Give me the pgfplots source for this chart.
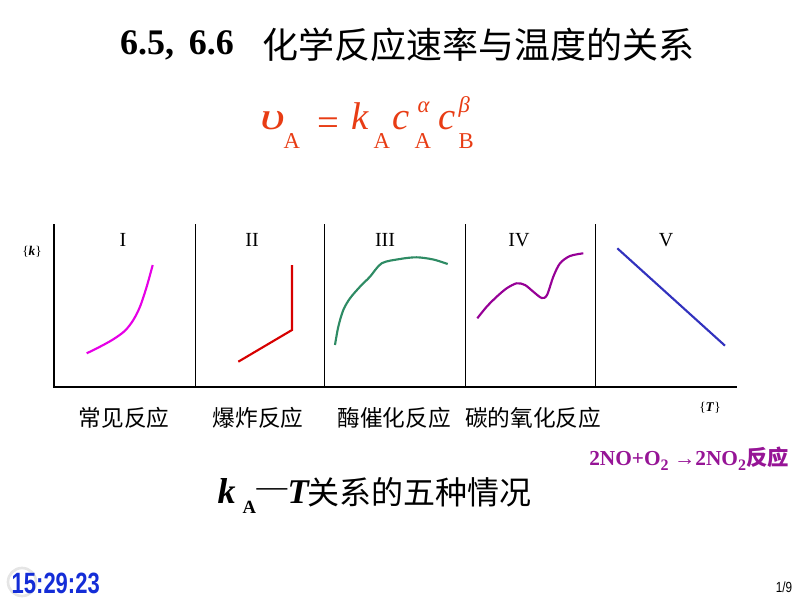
\documentclass[border=0pt]{standalone}
\usepackage{pgfplots}
\pgfplotsset{compat=1.18}
\usepackage{fontspec}
\setmainfont{Liberation Serif}
\newfontfamily\cjk{Noto Sans CJK SC}
\newfontfamily\sans{Liberation Sans}
\definecolor{cI}{RGB}{230,0,230}
\definecolor{cII}{RGB}{215,0,0}
\definecolor{cIII}{RGB}{46,139,100}
\definecolor{cIV}{RGB}{150,0,150}
\definecolor{cV}{RGB}{50,50,190}
\definecolor{fred}{RGB}{232,60,20}
\definecolor{tpurple}{RGB}{150,20,150}
\definecolor{clockblue}{RGB}{20,45,215}
\newcommand{\fs}[1]{\fontsize{#1}{#1}\selectfont}
\begin{document}
\begin{tikzpicture}
\path[use as bounding box] (0,0) rectangle (600pt,450pt);
\begin{axis}[
  at={(0,0)}, anchor=south west,
  width=600pt, height=450pt, scale only axis,
  xmin=0, xmax=800, ymin=0, ymax=600, y dir=reverse,
  hide axis, clip=false,
  every node/.append style={inner sep=0pt, outer sep=0pt},
]
% frame
\addplot[black, line width=1pt] coordinates {(54,224) (54,387) (737,387)};
\addplot[black, line width=1pt] coordinates {(195.3,224) (195.3,387)};
\addplot[black, line width=1pt] coordinates {(324.3,224) (324.3,387)};
\addplot[black, line width=1pt] coordinates {(465.3,224) (465.3,387)};
\addplot[black, line width=1pt] coordinates {(595.3,224) (595.3,387)};
% curves
\addplot[cI, line width=1.6pt, smooth] coordinates {(86.7,353.3) (100,346.7) (113.3,339.3) (125,330.7) (133.3,320) (140,306.7) (146.7,286.7) (152.7,265)};
\addplot[cII, line width=1.6pt] coordinates {(238.3,361.7) (292,330) (292,265)};
\addplot[cIII, line width=1.6pt, smooth] coordinates {(335,345) (338.3,326.7) (343.3,310) (350,298.3) (360,286.7) (370,276.7) (381.7,263.3) (400,259) (416.7,257.3) (433.3,259.5) (447.7,264)};
\addplot[cIV, line width=1.6pt, smooth] coordinates {(477.3,318.3) (486.7,306.7) (496.7,296.7) (506.7,288.3) (516.7,283.3) (525,285) (533.3,291.7) (541.7,298) (547,295) (553.3,276.7) (560,263.3) (570,256) (583.3,253.3)};
\addplot[cV, line width=1.6pt] coordinates {(617.3,248.3) (725,345.7)};
% panel labels
\node at (axis cs:123,240) {\fs{15}I};
\node at (axis cs:252,240) {\fs{15}II};
\node at (axis cs:385,240) {\fs{15}III};
\node at (axis cs:519,240) {\fs{15}IV};
\node at (axis cs:666,240) {\fs{15}V};
\node at (axis cs:32,252) {\fs{10}\{\textbf{\textit{k}}\}};
\node at (axis cs:710,408) {\fs{10}\{\textbf{\textit{T}}\}};
% category labels
\node at (axis cs:124,418) {\cjk\fs{17}常见反应};
\node at (axis cs:258,418) {\cjk\fs{17}爆炸反应};
\node at (axis cs:394,418) {\cjk\fs{17}酶催化反应};
\node at (axis cs:533,418) {\cjk\fs{17}碳的氧化反应};
% title
\node at (axis cs:177,45) {\fs{27}\bfseries 6.5,\ \,6.6};
\node at (axis cs:478,45) {\cjk\fs{27}化学反应速率与温度的关系};
% formula
\begin{scope}[every node/.append style={text=fred, anchor=base west}]
\node at (axis cs:256,129) {\scalebox{1.4}[1]{\fs{29}\itshape υ}};
\node at (axis cs:279,148) {\fs{17}A};
\node at (axis cs:313,135) {\fs{29}=};
\node at (axis cs:347,129) {\fs{29}\itshape k};
\node at (axis cs:369,148) {\fs{17}A};
\node at (axis cs:388,129) {\fs{29}\itshape c};
\node at (axis cs:413,112) {\fs{17}\itshape α};
\node at (axis cs:410,148) {\fs{17}A};
\node at (axis cs:434,129) {\fs{29}\itshape c};
\node at (axis cs:454,112) {\fs{17}\itshape β};
\node at (axis cs:454,148) {\fs{17}B};
\end{scope}
% NO reaction
\node[text=tpurple] at (axis cs:689,459) {\fs{16}\bfseries 2NO+O\raisebox{-0.25em}{\fs{12}2} \textrightarrow 2NO\raisebox{-0.25em}{\fs{12}2}\cjk 反应};
% kA - T
\begin{scope}[every node/.append style={anchor=base west}]
\node at (axis cs:213,503) {\fs{27}\bfseries\itshape k};
\node at (axis cs:238,513) {\fs{14}\bfseries A};
\node at (axis cs:252,496) {\fs{23}—};
\node at (axis cs:283,503) {\fs{26}\bfseries\itshape T};
\node at (axis cs:303,504) {\cjk\fs{24}关系的五种情况};
\end{scope}
% clock and page number
\draw[black!10, line width=2pt] (axis cs:22,582) circle[radius=10.5pt];
\node[text=clockblue, anchor=base west] at (axis cs:7,593) {\scalebox{0.75}[1]{\sans\bfseries\fs{22}15:29:23}};
\node at (axis cs:784,587) {\scalebox{0.8}[1]{\sans\fs{11}1/9}};
\end{axis}
\end{tikzpicture}
\end{document}
